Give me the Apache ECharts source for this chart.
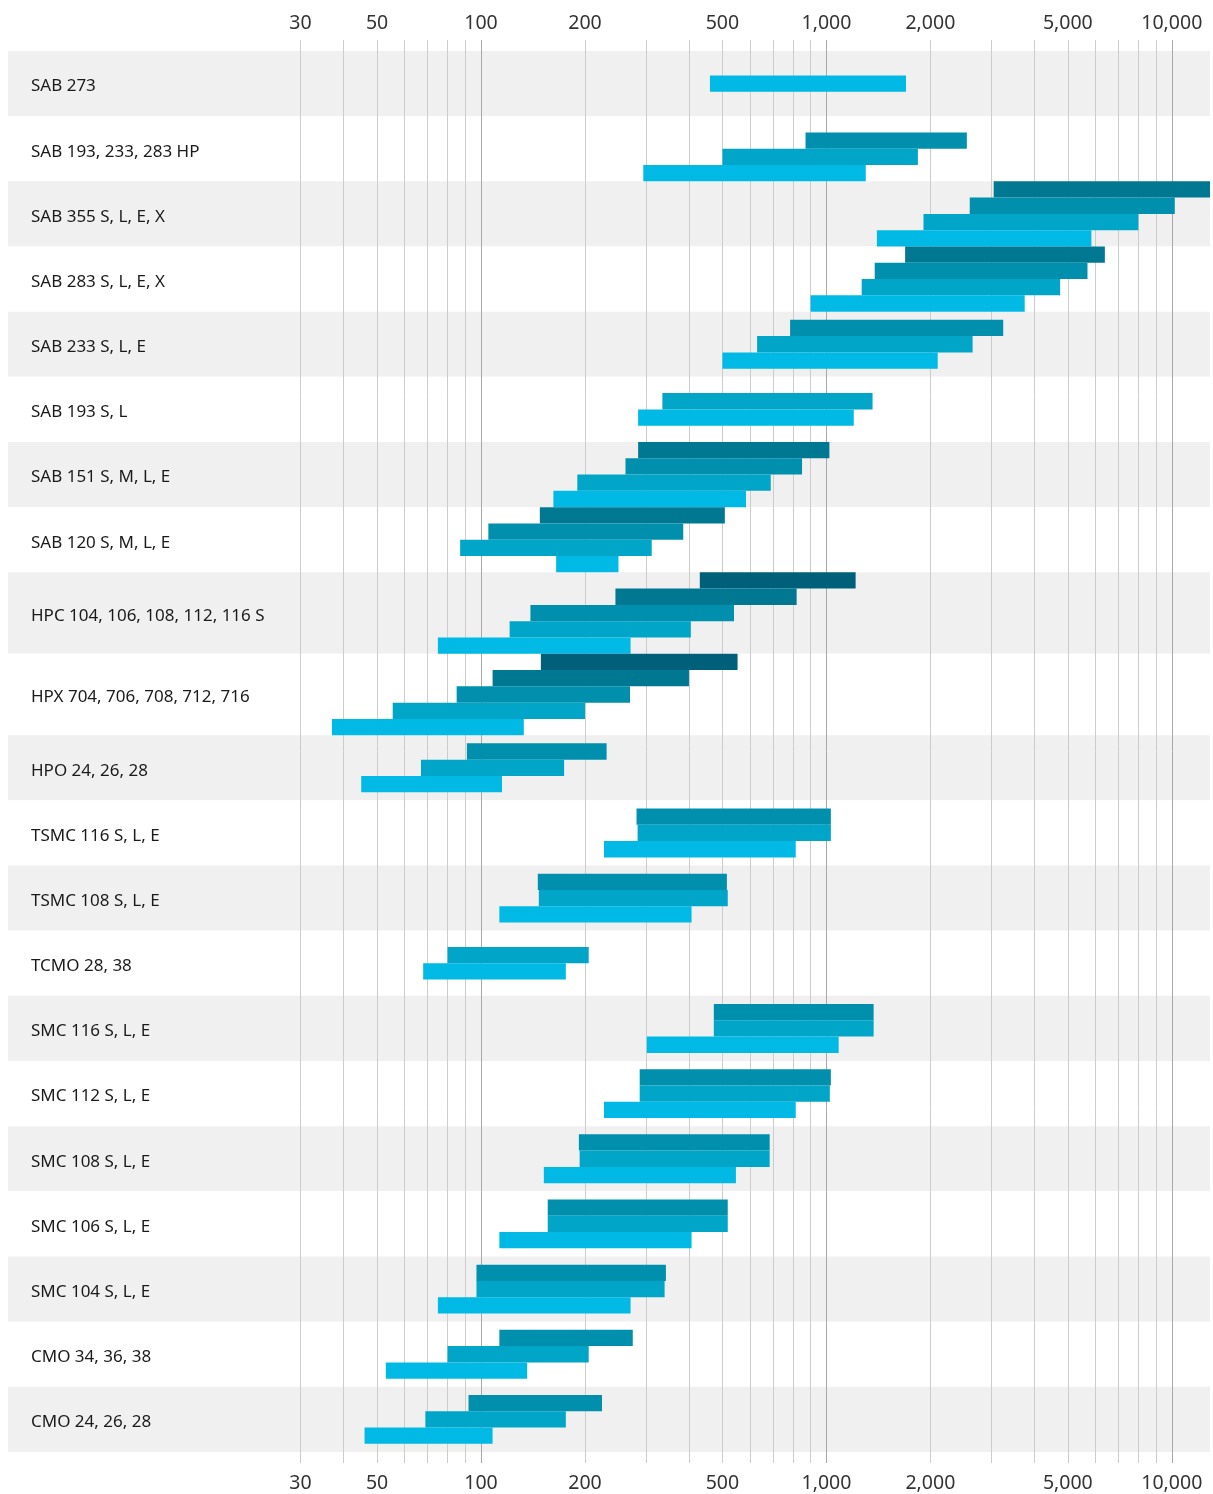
<!DOCTYPE html>
<html>
<head>
<meta charset="utf-8">
<title>Fördermengen</title>
<script src="https://cdn.jsdelivr.net/npm/echarts@6/dist/echarts.min.js"></script>
<style>
  html, body { margin: 0; padding: 0; background: #fff; }
  #main { width: 1213px; height: 1494px; }
</style>
</head>
<body>
<div id="main"></div>
<script>
// Baureihen, von oben nach unten
var groups = [
  'SAB 273', 'SAB 193, 233, 283 HP', 'SAB 355 S, L, E, X', 'SAB 283 S, L, E, X',
  'SAB 233 S, L, E', 'SAB 193 S, L', 'SAB 151 S, M, L, E', 'SAB 120 S, M, L, E',
  'HPC 104, 106, 108, 112, 116 S', 'HPX 704, 706, 708, 712, 716', 'HPO 24, 26, 28',
  'TSMC 116 S, L, E', 'TSMC 108 S, L, E', 'TCMO 28, 38', 'SMC 116 S, L, E',
  'SMC 112 S, L, E', 'SMC 108 S, L, E', 'SMC 106 S, L, E', 'SMC 104 S, L, E',
  'CMO 34, 36, 38', 'CMO 24, 26, 28'
];
// Bereiche je Baureihe, oberster Balken zuerst (null = leerer Platz)
var rangeStart = [
  [460], [null, 870, 500, 295], [3050, 2600, 1910, 1400], [1690, 1380, 1265, 900],
  [785, 630, 500], [335, 285], [285, 262, 190, 162], [148, 105, 87, 165],
  [430, 245, 139, 121, 75], [149, 108, 85, 55.5, 37], [91, 67, 45],
  [282, 284, 227], [146, 147, 113], [80, 68], [472, 472, 302],
  [288, 288, 227], [192, 193, 152], [156, 156, 113], [97, 97, 75],
  [113, 80, 53], [92, 69, 46]
];
var rangeEnd = [
  [1700], [null, 2550, 1840, 1300], [12900, 10200, 8000, 5850], [6400, 5700, 4750, 3750],
  [3250, 2650, 2100], [1360, 1200], [1020, 850, 690, 585], [508, 385, 312, 250],
  [1215, 820, 540, 405, 271], [553, 400, 270, 200, 133], [231, 174, 115],
  [1030, 1030, 815], [515, 518, 407], [205, 176], [1370, 1370, 1085],
  [1030, 1023, 815], [685, 685, 547], [518, 518, 407], [343, 340, 271],
  [275, 205, 136], [224, 176, 108]
];
var gridValues = [30, 40, 50, 60, 70, 80, 90, 100, 200, 300, 400, 500, 600, 700, 800, 900,
  1000, 2000, 3000, 4000, 5000, 6000, 7000, 8000, 9000, 10000];
var tickLabels = [30, 50, 100, 200, 500, 1000, 2000, 5000, 10000];
// unterster Balken -> oberster Balken
var barColors = ['#00b9e4', '#00a5c8', '#008fad', '#007891', '#00607a'];

var bands = [], bars = [];
var pos = 0;
for (var k = 0; k < groups.length; k++) {
  var n = rangeStart[k].length;
  var slots = Math.max(4, n);
  var off = (slots - n) / 2;
  bands.push([pos, pos + slots, 100, k]);
  for (var i = 0; i < n; i++) {
    if (rangeStart[k][i] == null) continue;
    bars.push([rangeStart[k][i], rangeEnd[k][i], pos + off + i + 0.5, n - 1 - i]);
  }
  pos += slots;
}

function fmt(v) {
  return String(Math.round(v)).replace(/\B(?=(\d{3})+(?!\d))/g, ',');
}

function renderBand(params, api) {
  var cs = params.coordSys;
  var y0 = api.coord([100, api.value(0)])[1];
  var y1 = api.coord([100, api.value(1)])[1];
  var k = api.value(3);
  return {
    type: 'group',
    children: [
      { type: 'rect', shape: { x: cs.x, y: y0, width: cs.width, height: y1 - y0 },
        style: { fill: k % 2 === 0 ? '#f0f0f0' : '#ffffff' } },
      { type: 'text', x: cs.x + 23, y: (y0 + y1) / 2 + 3,
        style: { text: groups[k], fill: '#1a1a1a', fontSize: 17, fontFamily: 'Noto Sans',
                 align: 'left', verticalAlign: 'middle' } }
    ]
  };
}

function renderBar(params, api) {
  var cs = params.coordSys;
  var yc = api.value(2);
  var a = api.coord([api.value(0), yc]);
  var b = api.coord([api.value(1), yc]);
  var top = api.coord([api.value(0), yc - 0.5])[1];
  var bot = api.coord([api.value(0), yc + 0.5])[1];
  var rect = echarts.graphic.clipRectByRect(
    { x: a[0], y: top, width: b[0] - a[0], height: bot - top },
    { x: cs.x, y: cs.y, width: cs.width, height: cs.height });
  if (!rect) return;
  return { type: 'rect', shape: rect, style: { fill: barColors[api.value(3)] } };
}

var myChart = echarts.init(document.getElementById('main'));

function labelStyle(margin) {
  return {
    customValues: tickLabels,
    formatter: fmt,
    fontSize: 19.5,
    fontFamily: 'Noto Sans',
    color: '#333',
    margin: margin
  };
}
var light = '#cccccc', dark = '#a8a8a8';

var option = {
  animation: false,
  grid: { left: 8, right: 3, top: 40, bottom: 31 },
  xAxis: [{
    type: 'log',
    logBase: 10,
    min: 4.27,
    max: 12900,
    position: 'bottom',
    axisLine: { show: false },
    axisTick: { show: false, customValues: gridValues },
    axisLabel: labelStyle(10),
    splitLine: {
      show: true,
      lineStyle: { width: 1, color: [light, light, light, light, light, light, light, dark, light] }
    }
  }, {
    type: 'log',
    logBase: 10,
    min: 4.27,
    max: 12900,
    position: 'top',
    axisLine: { show: false },
    axisTick: { show: false, customValues: gridValues },
    axisLabel: labelStyle(7),
    splitLine: { show: false }
  }],
  yAxis: {
    type: 'value',
    inverse: true,
    min: -0.675,
    max: pos + 0.675,
    show: false
  },
  series: [{
    type: 'custom',
    z: -1,
    renderItem: renderBand,
    encode: { x: 2, y: [0, 1] },
    data: bands
  }, {
    type: 'custom',
    renderItem: renderBar,
    encode: { x: [0, 1], y: 2 },
    data: bars
  }]
};

myChart.setOption(option);
</script>
</body>
</html>
